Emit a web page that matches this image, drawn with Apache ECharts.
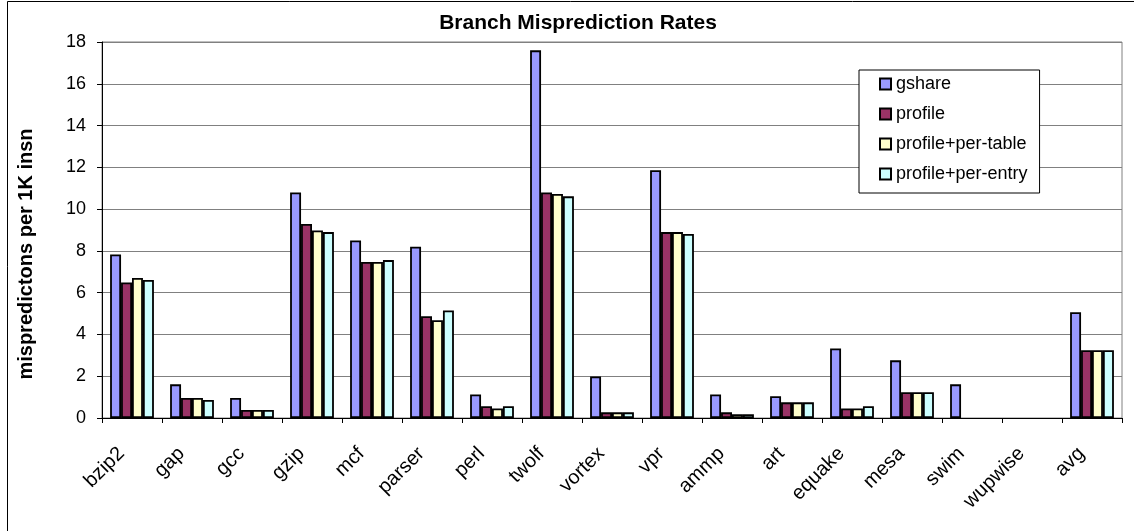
<!DOCTYPE html>
<html><head><meta charset="utf-8">
<script src="https://cdn.jsdelivr.net/npm/echarts@6/dist/echarts.min.js"></script>
<style>html,body{margin:0;padding:0;background:#fff}#c{width:1134px;height:531px}</style>
</head><body><div id="c"></div>
<script>
const categories = ['bzip2','gap','gcc','gzip','mcf','parser','perl','twolf','vortex','vpr','ammp','art','equake','mesa','swim','wupwise','avg'];
const seriesNames = ['gshare','profile','profile+per-table','profile+per-entry'];
const gshare   = [7.83,1.61,0.96,10.80,8.50,8.20,1.13,17.60,1.99,11.86,1.13,1.04,3.33,2.76,1.61,null,5.06];
const profile  = [6.49,0.96,0.38,9.29,7.47,4.87,0.56,10.80,0.27,8.90,0.27,0.75,0.46,1.23,null,null,3.24];
const perTable = [6.70,0.96,0.38,8.98,7.47,4.68,0.46,10.72,0.27,8.90,0.18,0.75,0.46,1.23,null,null,3.24];
const perEntry = [6.61,0.86,0.38,8.90,7.56,5.15,0.56,10.61,0.27,8.81,0.18,0.75,0.56,1.23,null,null,3.24];
const colors = ['#9999FF','#993366','#FFFFCC','#CCFFFF'];
const titleText = 'Branch Misprediction Rates';
const yTitle = 'mispredictons per 1K insn';

const FF = '"Liberation Sans", Arial, sans-serif';
const chart = echarts.init(document.getElementById('c'), null, {renderer:'canvas'});
const values = [gshare, profile, perTable, perEntry];
chart.setOption({
  animation: false,
  backgroundColor: '#fff',
  title: {
    text: titleText, left: 573, textAlign: 'center', top: 8,
    textStyle: {fontFamily: FF, fontSize: 21, fontWeight: 'bold', color: '#000'}
  },
  graphic: [
    {type: 'polyline', shape: {points: [[7.5, 531], [7.5, 1.5], [1134, 1.5]]}, style: {stroke: '#000', lineWidth: 1, fill: null}},
    {type: 'text', x: 26, y: 254, rotation: Math.PI / 2,
     style: {text: yTitle, fontFamily: FF, fontSize: 20, fontWeight: 'bold', fill: '#000', align: 'center', verticalAlign: 'middle'}}
  ],
  legend: {
    orient: 'vertical', left: 859, top: 70, padding: [4, 12, 9, 20],
    itemWidth: 11, itemHeight: 11, itemGap: 10, icon: 'rect',
    backgroundColor: '#fff', borderColor: '#000', borderWidth: 1,
    textStyle: {fontFamily: FF, fontSize: 18, color: '#000', lineHeight: 20},
    data: seriesNames
  },
  grid: {left: 102, right: 12, top: 42, bottom: 113, show: true, borderColor: '#808080', borderWidth: 1, containLabel: false},
  xAxis: {
    type: 'category', data: categories,
    axisLine: {lineStyle: {color: '#000', width: 1}},
    axisTick: {show: true, length: 5, lineStyle: {color: '#000'}},
    axisLabel: {rotate: 45, interval: 0, fontFamily: FF, fontSize: 20, color: '#000', margin: 22, padding: [0, 15, 0, 0]},
    splitLine: {show: false}
  },
  yAxis: {
    type: 'value', min: 0, max: 18, interval: 2,
    axisLine: {show: true, lineStyle: {color: '#000', width: 1}},
    axisTick: {show: true, length: 5, lineStyle: {color: '#000'}},
    axisLabel: {fontFamily: FF, fontSize: 18, color: '#000', margin: 16},
    splitLine: {show: true, lineStyle: {color: '#808080', width: 1}}
  },
  series: seriesNames.map((n, i) => ({
    name: n, type: 'bar', data: values[i],
    barGap: '0%', barCategoryGap: '27%',
    itemStyle: {color: colors[i], borderColor: '#000', borderWidth: 1.8}
  }))
});
</script></body></html>
